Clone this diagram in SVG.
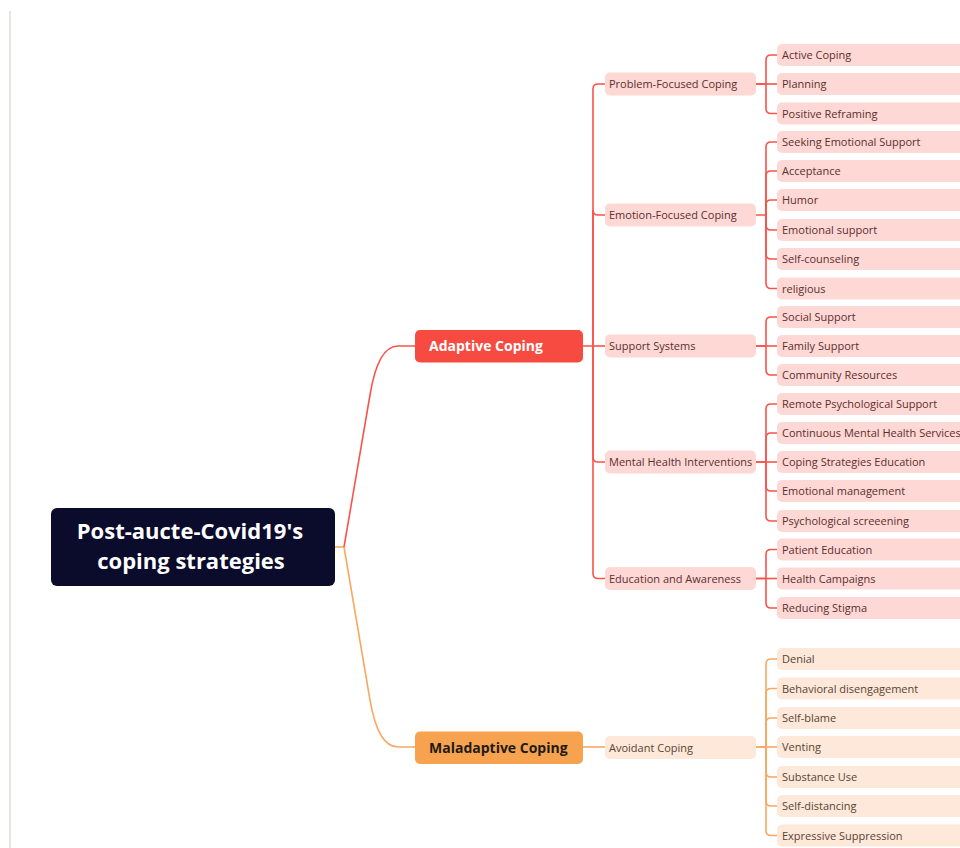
<svg xmlns="http://www.w3.org/2000/svg" width="960" height="848" viewBox="0 0 960 848">
<style>
  text { font-family: "Open Sans", "Noto Sans", "Liberation Sans", sans-serif; }
  .root-box { fill: #0b0b2c; }
  .root-t { fill: #ffffff; font-size: 22px; font-weight: 700; text-anchor: middle; }
  .l1r { fill: #f74a41; }
  .l1o { fill: #f7a24f; }
  .l1rt { fill: #ffffff; font-size: 14px; font-weight: 700; }
  .l1ot { fill: #1e1a16; font-size: 14px; font-weight: 700; }
  .nr { fill: #fdd8d5; }
  .no { fill: #fde8d9; }
  .tr { fill: #5e2e2e; font-size: 11px; }
  .to { fill: #5a4332; font-size: 11px; }
  .cr { fill: none; stroke: #f9534a; stroke-width: 1.6; }
  .co { fill: none; stroke: #f8a862; stroke-width: 1.6; }
</style>
<rect x="0" y="0" width="960" height="848" fill="#ffffff"/>
<line x1="10" y1="11" x2="10" y2="848" stroke="#e6e6de" stroke-width="2"/>

<g id="connectors">
  <path class="co" d="M335,547 H344"/>
  <path class="cr" d="M344,547 L370,395 Q378,346 398,346 H415"/>
  <path class="co" d="M344,547 L370,700 Q378,747 398,747 H415"/>
  <path class="cr" d="M583,346 H593 V89 Q593,84 598,84 H605"/>
  <path class="cr" d="M593,346 V210 Q593,215 598,215 H605"/>
  <path class="cr" d="M593,346 H605"/>
  <path class="cr" d="M593,346 V457 Q593,462 598,462 H605"/>
  <path class="cr" d="M593,346 V573.5 Q593,578.5 598,578.5 H605"/>
  <path class="cr" d="M756,84 H766 V60 Q766,55 771,55 H777"/>
  <path class="cr" d="M756,84 H777"/>
  <path class="cr" d="M766,84 V108.5 Q766,113.5 771,113.5 H777"/>
  <path class="cr" d="M756,215 H766 V147 Q766,142 771,142 H777"/>
  <path class="cr" d="M766,215 V176 Q766,171 771,171 H777"/>
  <path class="cr" d="M766,215 V205 Q766,200 771,200 H777"/>
  <path class="cr" d="M766,215 V225 Q766,230 771,230 H777"/>
  <path class="cr" d="M766,215 V254 Q766,259 771,259 H777"/>
  <path class="cr" d="M766,215 V283.5 Q766,288.5 771,288.5 H777"/>
  <path class="cr" d="M756,346 H766 V322 Q766,317 771,317 H777"/>
  <path class="cr" d="M756,346 H777"/>
  <path class="cr" d="M766,346 V370 Q766,375 771,375 H777"/>
  <path class="cr" d="M756,462 H766 V409 Q766,404 771,404 H777"/>
  <path class="cr" d="M766,462 V438 Q766,433 771,433 H777"/>
  <path class="cr" d="M756,462 H777"/>
  <path class="cr" d="M766,462 V486 Q766,491 771,491 H777"/>
  <path class="cr" d="M766,462 V516 Q766,521 771,521 H777"/>
  <path class="cr" d="M756,578.5 H766 V554.5 Q766,549.5 771,549.5 H777"/>
  <path class="cr" d="M756,578.5 H777"/>
  <path class="cr" d="M766,578.5 V603 Q766,608 771,608 H777"/>
  <path class="co" d="M583,747 H605"/>
  <path class="co" d="M756,747 H766 V664 Q766,659 771,659 H777"/>
  <path class="co" d="M766,747 V693.5 Q766,688.5 771,688.5 H777"/>
  <path class="co" d="M766,747 V723 Q766,718 771,718 H777"/>
  <path class="co" d="M756,747 H777"/>
  <path class="co" d="M766,747 V772 Q766,777 771,777 H777"/>
  <path class="co" d="M766,747 V801 Q766,806 771,806 H777"/>
  <path class="co" d="M766,747 V830.5 Q766,835.5 771,835.5 H777"/>
</g>

<g id="root">
  <rect class="root-box" x="51" y="508" width="284" height="78" rx="6"/>
  <text class="root-t" x="190" y="538.5">Post-aucte-Covid19's</text>
  <text class="root-t" x="191" y="568.5">coping strategies</text>
</g>

<g id="adaptive">
  <rect class="l1r" x="415" y="330" width="168" height="32.5" rx="5"/>
  <text class="l1rt" x="429" y="351">Adaptive Coping</text>
</g>
<g id="maladaptive">
  <rect class="l1o" x="415" y="731.5" width="168" height="32.5" rx="5"/>
  <text class="l1ot" x="429" y="752.5">Maladaptive Coping</text>
</g>

<g id="problem-focused"><rect class="nr" x="605" y="72.5" width="151" height="23" rx="5"/><text class="tr" x="609" y="88">Problem-Focused Coping</text></g>
<g id="emotion-focused"><rect class="nr" x="605" y="203.5" width="151" height="23" rx="5"/><text class="tr" x="609" y="219">Emotion-Focused Coping</text></g>
<g id="support-systems"><rect class="nr" x="605" y="334.5" width="151" height="23" rx="5"/><text class="tr" x="609" y="350">Support Systems</text></g>
<g id="mental-health"><rect class="nr" x="605" y="450.5" width="151" height="23" rx="5"/><text class="tr" x="609" y="466">Mental Health Interventions</text></g>
<g id="education"><rect class="nr" x="605" y="567" width="151" height="23" rx="5"/><text class="tr" x="609" y="582.5">Education and Awareness</text></g>
<g id="avoidant"><rect class="no" x="605" y="736" width="151" height="23" rx="5"/><text class="to" x="609" y="751.5">Avoidant Coping</text></g>

<g id="active-coping"><rect class="nr" x="777" y="44" width="200" height="22" rx="5"/><text class="tr" x="782" y="59">Active Coping</text></g>
<g id="planning"><rect class="nr" x="777" y="73" width="200" height="22" rx="5"/><text class="tr" x="782" y="88">Planning</text></g>
<g id="positive-reframing"><rect class="nr" x="777" y="102.5" width="200" height="22" rx="5"/><text class="tr" x="782" y="117.5">Positive Reframing</text></g>
<g id="seeking-emotional-support"><rect class="nr" x="777" y="131" width="200" height="22" rx="5"/><text class="tr" x="782" y="146">Seeking Emotional Support</text></g>
<g id="acceptance"><rect class="nr" x="777" y="160" width="200" height="22" rx="5"/><text class="tr" x="782" y="175">Acceptance</text></g>
<g id="humor"><rect class="nr" x="777" y="189" width="200" height="22" rx="5"/><text class="tr" x="782" y="204">Humor</text></g>
<g id="emotional-support"><rect class="nr" x="777" y="219" width="200" height="22" rx="5"/><text class="tr" x="782" y="234">Emotional support</text></g>
<g id="self-counseling"><rect class="nr" x="777" y="248" width="200" height="22" rx="5"/><text class="tr" x="782" y="263">Self-counseling</text></g>
<g id="religious"><rect class="nr" x="777" y="277.5" width="200" height="22" rx="5"/><text class="tr" x="782" y="292.5">religious</text></g>
<g id="social-support"><rect class="nr" x="777" y="306" width="200" height="22" rx="5"/><text class="tr" x="782" y="321">Social Support</text></g>
<g id="family-support"><rect class="nr" x="777" y="335" width="200" height="22" rx="5"/><text class="tr" x="782" y="350">Family Support</text></g>
<g id="community-resources"><rect class="nr" x="777" y="364" width="200" height="22" rx="5"/><text class="tr" x="782" y="379">Community Resources</text></g>
<g id="remote-psychological-support"><rect class="nr" x="777" y="393" width="200" height="22" rx="5"/><text class="tr" x="782" y="408">Remote Psychological Support</text></g>
<g id="continuous-mental-health"><rect class="nr" x="777" y="422" width="200" height="22" rx="5"/><text class="tr" x="782" y="437">Continuous Mental Health Services</text></g>
<g id="coping-strategies-education"><rect class="nr" x="777" y="451" width="200" height="22" rx="5"/><text class="tr" x="782" y="466">Coping Strategies Education</text></g>
<g id="emotional-management"><rect class="nr" x="777" y="480" width="200" height="22" rx="5"/><text class="tr" x="782" y="495">Emotional management</text></g>
<g id="psychological-screening"><rect class="nr" x="777" y="510" width="200" height="22" rx="5"/><text class="tr" x="782" y="525">Psychological screeening</text></g>
<g id="patient-education"><rect class="nr" x="777" y="538.5" width="200" height="22" rx="5"/><text class="tr" x="782" y="553.5">Patient Education</text></g>
<g id="health-campaigns"><rect class="nr" x="777" y="567.5" width="200" height="22" rx="5"/><text class="tr" x="782" y="582.5">Health Campaigns</text></g>
<g id="reducing-stigma"><rect class="nr" x="777" y="597" width="200" height="22" rx="5"/><text class="tr" x="782" y="612">Reducing Stigma</text></g>

<g id="denial"><rect class="no" x="777" y="648" width="200" height="22" rx="5"/><text class="to" x="782" y="663">Denial</text></g>
<g id="behavioral-disengagement"><rect class="no" x="777" y="677.5" width="200" height="22" rx="5"/><text class="to" x="782" y="692.5">Behavioral disengagement</text></g>
<g id="self-blame"><rect class="no" x="777" y="707" width="200" height="22" rx="5"/><text class="to" x="782" y="722">Self-blame</text></g>
<g id="venting"><rect class="no" x="777" y="736" width="200" height="22" rx="5"/><text class="to" x="782" y="751">Venting</text></g>
<g id="substance-use"><rect class="no" x="777" y="766" width="200" height="22" rx="5"/><text class="to" x="782" y="781">Substance Use</text></g>
<g id="self-distancing"><rect class="no" x="777" y="795" width="200" height="22" rx="5"/><text class="to" x="782" y="810">Self-distancing</text></g>
<g id="expressive-suppression"><rect class="no" x="777" y="824.5" width="200" height="22" rx="5"/><text class="to" x="782" y="839.5">Expressive Suppression</text></g>
</svg>
